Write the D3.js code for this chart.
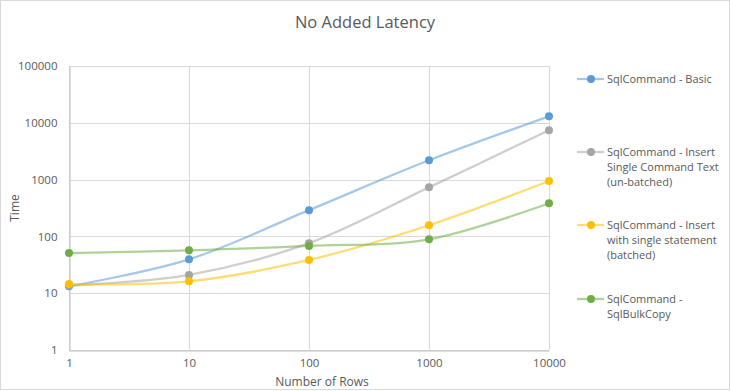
<!DOCTYPE html>
<html><head><meta charset="utf-8">
<script src="https://cdn.jsdelivr.net/npm/d3@7"></script>
<style>body{margin:0;background:#fff}svg{display:block}text{font-family:"Open Sans","Liberation Sans",sans-serif;fill:#595959}</style>
</head><body><svg id="c" width="731" height="391"></svg>
<script>
const rows = [1, 10, 100, 1000, 10000];
const yTicks = [1, 10, 100, 1000, 10000, 100000];
const seriesNames = [["SqlCommand - Basic"],["SqlCommand - Insert","Single Command Text","(un-batched)"],["SqlCommand - Insert","with single statement","(batched)"],["SqlCommand -","SqlBulkCopy"]];
const basic = [13.2, 39.5, 290, 2190, 13000];
const unbatched = [13.6, 21, 76, 730, 7400];
const batched = [14.5, 16.2, 38.5, 157, 945];
const bulkCopy = [51, 57, 68, 89, 383];
const colors = ["#5B9BD5", "#A5A5A5", "#FFC000", "#70AD47"];
const series = [basic, unbatched, batched, bulkCopy];

const svg = d3.select("#c");
svg.append("rect").attr("x",0.5).attr("y",0.5).attr("width",729).attr("height",389).attr("fill","#fff").attr("stroke","#d9d9d9");

const x = d3.scaleLog().domain([1,10000]).range([69,549]);
const y = d3.scaleLog().domain([1,100000]).range([350,66]);

// gridlines
svg.append("g").selectAll("line").data(yTicks).join("line")
  .attr("x1",69).attr("x2",549).attr("y1",d=>Math.round(y(d))+0.5).attr("y2",d=>Math.round(y(d))+0.5)
  .attr("stroke","#d9d9d9");
svg.append("g").selectAll("line").data(rows).join("line")
  .attr("y1",66).attr("y2",350).attr("x1",d=>Math.round(x(d))+0.5).attr("x2",d=>Math.round(x(d))+0.5)
  .attr("stroke","#d9d9d9");

// axes
const yAxis = d3.axisLeft(y).tickValues(yTicks).tickFormat(d3.format("d")).tickSize(0).tickPadding(12);
const gy = svg.append("g").attr("transform","translate(69.5,0)").call(yAxis);
gy.select(".domain").attr("stroke","#bfbfbf");
gy.selectAll("text").attr("font-size","11.5px").style("fill","#595959").style("font-family","'Open Sans',sans-serif");
const xAxis = d3.axisBottom(x).tickValues(rows).tickFormat(d3.format("d")).tickSize(0).tickPadding(8);
const gx = svg.append("g").attr("transform","translate(0,350.5)").call(xAxis);
gx.select(".domain").attr("stroke","#bfbfbf");
gx.selectAll("text").attr("font-size","11.5px").style("fill","#595959").style("font-family","'Open Sans',sans-serif");

// title & axis titles
svg.append("text").attr("x",365).attr("y",28).attr("text-anchor","middle").attr("font-size","16.5px").text("No Added Latency");
svg.append("text").attr("x",322).attr("y",386).attr("text-anchor","middle").attr("font-size","12px").text("Number  of Rows");
svg.append("text").attr("transform","translate(19,208) rotate(-90)").attr("text-anchor","middle").attr("font-size","12px").text("Time");

// lines
const line = d3.line().x((d,i)=>x(rows[i])).y(d=>y(d)).curve(d3.curveCatmullRom.alpha(0.5));
series.forEach((s,k)=>{
  svg.append("path").attr("d",line(s)).attr("fill","none").attr("stroke",colors[k]).attr("stroke-opacity",0.55).attr("stroke-width",2.25);
});
series.forEach((s,k)=>{
  svg.append("g").selectAll("circle").data(s).join("circle")
    .attr("cx",(d,i)=>x(rows[i])).attr("cy",d=>y(d)).attr("r",4).attr("fill",colors[k]);
});

// legend
const legY = [79, 152, 225, 299];
seriesNames.forEach((lines,k)=>{
  const g = svg.append("g");
  g.append("line").attr("x1",577).attr("x2",604).attr("y1",legY[k]).attr("y2",legY[k]).attr("stroke",colors[k]).attr("stroke-opacity",0.55).attr("stroke-width",2.25);
  g.append("circle").attr("cx",591).attr("cy",legY[k]).attr("r",4).attr("fill",colors[k]);
  lines.forEach((t,j)=>{
    g.append("text").attr("x",607).attr("y",legY[k]+4+j*15).attr("font-size","11px").text(t);
  });
});
</script></body></html>
